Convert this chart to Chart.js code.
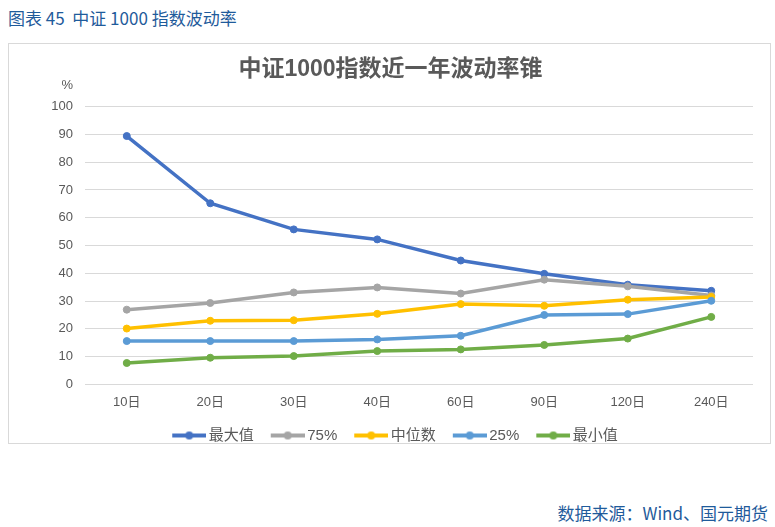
<!DOCTYPE html>
<html><head><meta charset="utf-8">
<script src="https://cdn.jsdelivr.net/npm/chart.js@4/dist/chart.umd.min.js"></script>
<style>
html,body{margin:0;padding:0;background:#fff;width:775px;height:527px;overflow:hidden;font-family:"Liberation Sans","Noto Sans CJK SC",sans-serif;}
#hdr{position:absolute;left:8px;top:6px;font-size:17px;color:#1F5B9B;white-space:pre;line-height:24px;font-family:"Noto Sans CJK SC",sans-serif;}
#frame{position:absolute;left:8px;top:43px;width:761px;height:399px;border:1px solid #D9D9D9;}
#c{position:absolute;left:0;top:0;}
#src{position:absolute;right:7px;top:501px;font-size:17px;color:#1F5B9B;line-height:24px;font-family:"Noto Sans CJK SC",sans-serif;}
</style></head>
<body>
<div id="hdr">图表 45  中证 1000 指数波动率</div>
<div id="frame"><canvas id="c" width="761" height="410"></canvas></div>
<div id="src">数据来源：Wind、国元期货</div>
<script>
const categories = ['10日','20日','30日','40日','60日','90日','120日','240日'];
const seriesNames = ['最大值','75%','中位数','25%','最小值'];
const maxVals    = [89.4, 65.2, 55.8, 52.2, 44.6, 39.8, 35.9, 33.7];
const p75Vals    = [26.9, 29.3, 33.1, 34.9, 32.7, 37.7, 35.3, 32.0];
const medianVals = [20.1, 22.9, 23.1, 25.4, 28.9, 28.3, 30.5, 31.5];
const p25Vals    = [15.6, 15.6, 15.6, 16.2, 17.5, 25.0, 25.3, 30.1];
const minVals    = [7.7, 9.6, 10.2, 12.0, 12.6, 14.2, 16.5, 24.3];
const yMin = 0, yMax = 100, yStep = 10;
const chartTitle = '中证1000指数近一年波动率锥';
const yUnit = '%';

const colors = ['#4472C4','#A5A5A5','#FFC000','#5B9BD5','#70AD47'];
const allVals = [maxVals, p75Vals, medianVals, p25Vals, minVals];
const FONT = '"Liberation Sans","Noto Sans CJK SC",sans-serif';
const TXT = '#595959';

function swatch(color){
  const c = document.createElement('canvas');
  c.width = 48; c.height = 10;
  const x = c.getContext('2d');
  x.strokeStyle = color; x.lineWidth = 4;
  x.beginPath(); x.moveTo(14,5); x.lineTo(48,5); x.stroke();
  x.fillStyle = color;
  x.beginPath(); x.arc(31,5,4,0,Math.PI*2); x.fill();
  return c;
}
const swatches = colors.map(swatch);

const datasets = seriesNames.map((name,i)=>({
  label: name,
  data: allVals[i],
  borderColor: colors[i],
  backgroundColor: colors[i],
  pointBackgroundColor: colors[i],
  pointBorderColor: colors[i],
  pointBorderWidth: 1,
  pointRadius: 3.5,
  borderWidth: 3.5,
  tension: 0,
  fill: false,
  order: seriesNames.length - i
}));

const unitPlugin = {
  id: 'unit',
  afterDraw(chart){
    const s = chart.scales.y, ctx = chart.ctx;
    ctx.save();
    ctx.font = '13px ' + FONT;
    ctx.fillStyle = TXT;
    ctx.textAlign = 'right';
    ctx.textBaseline = 'middle';
    ctx.fillText(yUnit, s.right - 12, s.top - 21);
    ctx.restore();
  }
};

new Chart(document.getElementById('c'), {
  type: 'line',
  data: { labels: categories, datasets },
  plugins: [unitPlugin],
  options: {
    responsive: false,
    animation: false,
    devicePixelRatio: 1,
    layout: { padding: { left: 19, right: 17, top: 0, bottom: 1 } },
    plugins: {
      title: {
        display: true, text: chartTitle, color: TXT,
        font: { size: 23, weight: 'bold', family: FONT },
        padding: { top: 12, bottom: 23 }
      },
      legend: {
        position: 'bottom',
        labels: {
          usePointStyle: true, pointStyleWidth: 38, boxHeight: 10,
          padding: 8, color: TXT, font: { size: 15, family: FONT },
          generateLabels(chart){
            const items = Chart.defaults.plugins.legend.labels.generateLabels(chart);
            items.sort((a,b)=>a.datasetIndex-b.datasetIndex);
            items.forEach(it=>{ it.pointStyle = swatches[it.datasetIndex]; });
            return items;
          }
        }
      },
      tooltip: { enabled: false }
    },
    scales: {
      x: {
        offset: true,
        grid: { display: false, drawTicks: false, offset: true },
        border: { display: false },
        ticks: { color: TXT, font: { size: 13, family: FONT }, padding: 10 }
      },
      y: {
        min: yMin, max: yMax,
        afterFit(s){ s.width = 57; },
        grid: { color: '#D9D9D9', lineWidth: 1, drawTicks: false },
        border: { display: false },
        ticks: { stepSize: yStep, color: TXT, font: { size: 13, family: FONT }, padding: 12 }
      }
    }
  }
});
</script>
</body></html>
